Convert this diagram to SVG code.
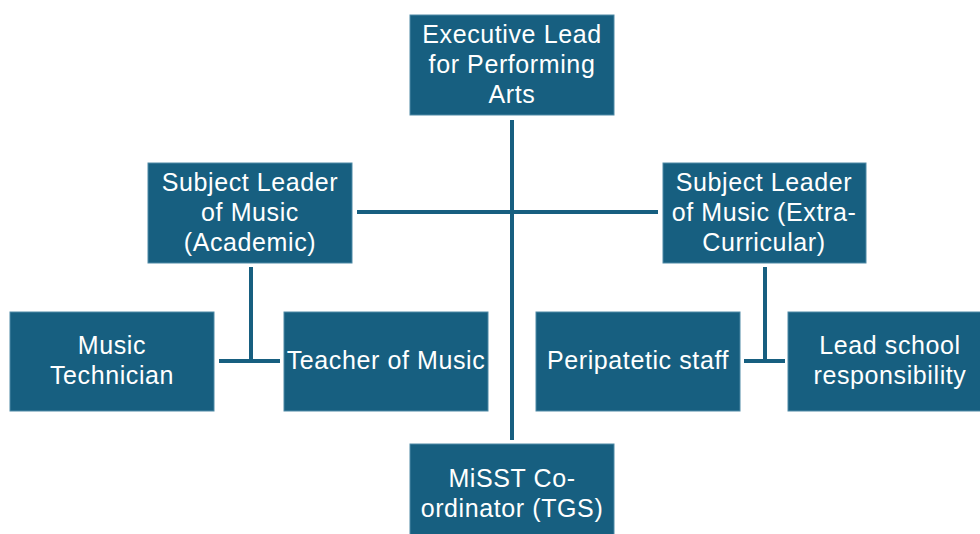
<svg xmlns="http://www.w3.org/2000/svg" width="980" height="534" viewBox="0 0 980 534">
<style>
.box{fill:#175f80;stroke:#4f8aa6;stroke-width:1}
.t{fill:#ffffff;font-family:"Liberation Sans",Arial,sans-serif;font-size:25px;letter-spacing:0.6px;text-anchor:middle}
.c{stroke:#175f80;stroke-width:4;fill:none}
</style>
<rect width="980" height="534" fill="#ffffff"/>
<g id="connectors">
<line class="c" x1="512" y1="120" x2="512" y2="440"/>
<line class="c" x1="357" y1="212" x2="658" y2="212"/>
<line class="c" x1="251" y1="267" x2="251" y2="361"/>
<line class="c" x1="219" y1="361" x2="280" y2="361"/>
<line class="c" x1="765" y1="267" x2="765" y2="361"/>
<line class="c" x1="744" y1="361" x2="785" y2="361"/>
</g>
<g id="exec">
<rect class="box" x="410" y="15" width="204" height="100"/>
<text class="t" x="512" y="43">Executive Lead</text>
<text class="t" x="512" y="73">for Performing</text>
<text class="t" x="512" y="103">Arts</text>
</g>
<g id="academic">
<rect class="box" x="148" y="163" width="204" height="100"/>
<text class="t" x="250" y="191">Subject Leader</text>
<text class="t" x="250" y="221">of Music</text>
<text class="t" x="250" y="251">(Academic)</text>
</g>
<g id="extra">
<rect class="box" x="663" y="163" width="203" height="100"/>
<text class="t" x="764" y="191">Subject Leader</text>
<text class="t" x="764" y="221">of Music (Extra-</text>
<text class="t" x="764" y="251">Curricular)</text>
</g>
<g id="technician">
<rect class="box" x="10" y="312" width="204" height="99"/>
<text class="t" x="112" y="354">Music</text>
<text class="t" x="112" y="384">Technician</text>
</g>
<g id="teacher">
<rect class="box" x="284" y="312" width="204" height="99"/>
<text class="t" x="386" y="369">Teacher of Music</text>
</g>
<g id="peripatetic">
<rect class="box" x="536" y="312" width="204" height="99"/>
<text class="t" x="638" y="369">Peripatetic staff</text>
</g>
<g id="leadschool">
<rect class="box" x="788" y="312" width="204" height="99"/>
<text class="t" x="890" y="354">Lead school</text>
<text class="t" x="890" y="384">responsibility</text>
</g>
<g id="misst">
<rect class="box" x="410" y="444" width="204" height="100"/>
<text class="t" x="512" y="487">MiSST Co-</text>
<text class="t" x="512" y="517">ordinator (TGS)</text>
</g>
</svg>
